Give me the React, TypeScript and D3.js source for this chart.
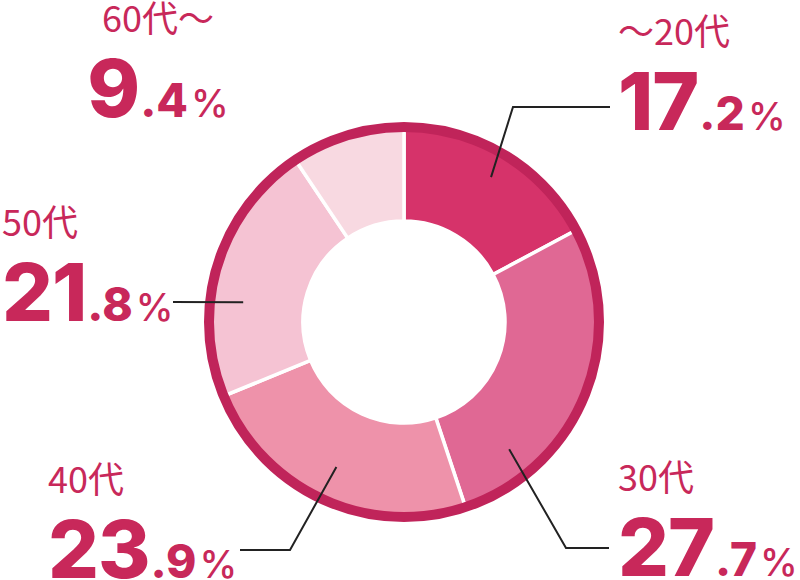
import * as d3 from "d3";

const ages = ["〜20代", "30代", "40代", "50代", "60代〜"];
const shares = [17.2, 27.7, 23.9, 21.8, 9.4];
const sliceColors = ["#d6336a", "#e06894", "#ee92aa", "#f5c3d3", "#f8d9e1"];

// label placement (x, label baseline, anchor); number sits 85px below
const labelLayout = [
  { x: 618, y: 45, anchor: "start" },
  { x: 618, y: 491, anchor: "start" },
  { x: 48, y: 493, anchor: "start" },
  { x: 2, y: 236, anchor: "start" },
  { x: 158, y: 32, anchor: "middle" },
];

// leader lines: start angle (deg, clockwise from top) + radius, then elbow points
const leaders: ({ angle: number; r: number; pts: [number, number][] } | null)[] = [
  { angle: 31, r: 169, pts: [[513, 107], [610, 107]] },
  { angle: 140.4, r: 165, pts: [[566, 548], [609, 548]] },
  { angle: 205, r: 160, pts: [[290, 550], [240, 550]] },
  { angle: 277, r: 162, pts: [[173, 302]] },
  null,
];

const W = 800;
const H = 580;
const cx = 404;
const cy = 322;
const outerR = 200;
const innerR = 101;
const ringW = 10;
const textColor = "#c8285a";

export default function App() {
  const pie = d3.pie<number>().sort(null).value((d) => d);
  const arcs = pie(shares);
  const arc = d3
    .arc<d3.PieArcDatum<number>>()
    .innerRadius(innerR)
    .outerRadius(outerR - 2);
  const line = d3.line();

  return (
    <svg
      width={W}
      height={H}
      viewBox={`0 0 ${W} ${H}`}
      style={{ position: "absolute", left: 0, top: 0, background: "#fff" }}
    >
      <g transform={`translate(${cx},${cy})`}>
        {arcs.map((a, i) => (
          <path
            key={ages[i]}
            d={arc(a) ?? ""}
            fill={sliceColors[i]}
            stroke="#fff"
            strokeWidth={3.5}
            strokeLinejoin="miter"
          />
        ))}
        <circle
          r={outerR - ringW / 2}
          fill="none"
          stroke="#c0245a"
          strokeWidth={ringW}
        />
      </g>

      {leaders.map((l, i) => {
        if (!l) return null;
        const t = (l.angle * Math.PI) / 180;
        const start: [number, number] = [
          cx + l.r * Math.sin(t),
          cy - l.r * Math.cos(t),
        ];
        return (
          <path
            key={`lead-${i}`}
            d={line([start, ...l.pts]) ?? ""}
            fill="none"
            stroke="#222"
            strokeWidth={2}
          />
        );
      })}

      {ages.map((age, i) => {
        const lay = labelLayout[i];
        const [intPart, decPart] = shares[i].toFixed(1).split(".");
        return (
          <g key={`lbl-${age}`} fill={textColor}>
            <text
              x={lay.x}
              y={lay.y}
              textAnchor={lay.anchor}
              fontFamily="'Noto Sans CJK JP', 'Noto Sans', sans-serif"
              fontSize={36}
              fontWeight={400}
            >
              {age}
            </text>
            <text
              x={lay.x}
              y={lay.y + 85}
              textAnchor={lay.anchor}
              fontFamily="Inter, 'Noto Sans', sans-serif"
            >
              <tspan fontSize={80} fontWeight={800} letterSpacing={-1}>
                {intPart}
              </tspan>
              <tspan fontSize={46} fontWeight={800} dx={1}>
                .{decPart}
              </tspan>
              <tspan fontSize={38} fontWeight={500} dx={3}>
                %
              </tspan>
            </text>
          </g>
        );
      })}
    </svg>
  );
}
